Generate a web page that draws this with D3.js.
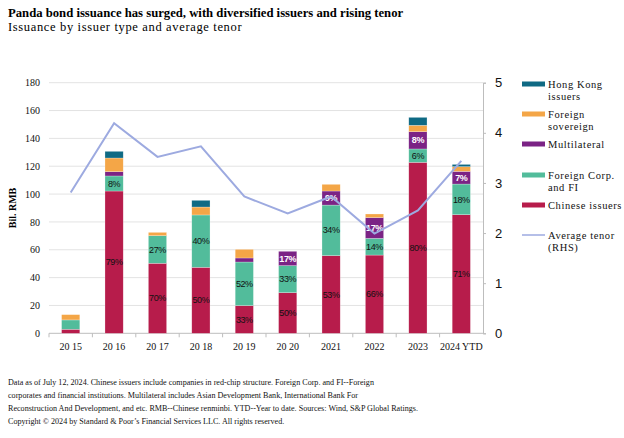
<!DOCTYPE html>
<html>
<head>
<meta charset="utf-8">
<script src="https://cdn.jsdelivr.net/npm/d3@7"></script>
<style>
  body { margin: 0; background: #fff; }
  svg { display: block; }
  .serif { font-family: "Liberation Serif", "Times New Roman", serif; }
  .sans { font-family: "Liberation Sans", Arial, sans-serif; }
</style>
</head>
<body>
<div id="container"></div>
<script>
const WIDTH = 624;
const HEIGHT = 438;
const PLOT = { LEFT: 49, RIGHT: 483, TOP: 82.7, BOTTOM: 333.3 };

// data
const years = ['2015', '2016', '2017', '2018', '2019', '2020', '2021', '2022', '2023', '2024YTD'];
const yearLabels = ['20 15', '20 16', '20 17', '20 18', '20 19', '20 20', '2021', '2022', '2023', '2024 YTD'];
const chinese = [2.9, 102.2, 50.3, 47.4, 19.9, 29.2, 55.8, 56.2, 122.8, 85.2];
const foreignCorp = [6.7, 10.8, 19.8, 37.6, 31.3, 19.4, 36.3, 12.0, 9.6, 22.0];
const multilateral = [0, 3.1, 0, 0, 2.9, 10.3, 10.1, 14.9, 12.4, 9.1];
const foreignSov = [3.8, 9.8, 2.4, 5.7, 6.2, 0, 4.8, 2.6, 4.6, 3.4];
const hongKong = [0, 4.8, 0, 4.8, 0, 0, 0, 0, 5.7, 1.6];
const tenor = [2.81, 4.19, 3.52, 3.73, 2.73, 2.39, 2.73, 1.99, 2.45, 3.44];

const chineseLabels = [null, '79%', '70%', '50%', '33%', '50%', '53%', '66%', '80%', '71%'];
const foreignCorpLabels = [null, '8%', '27%', '40%', '52%', '33%', '34%', '14%', '6%', '18%'];
const multilateralLabels = [null, null, null, null, null, '17%', '9%', '17%', '8%', '7%'];

const leftTicks = [0, 20, 40, 60, 80, 100, 120, 140, 160, 180];
const rightTicks = [0, 1, 2, 3, 4, 5];

const series = [
  { key: 'chinese', values: chinese, labels: chineseLabels, color: '#B71C4B', text: '#111' },
  { key: 'foreignCorp', values: foreignCorp, labels: foreignCorpLabels, color: '#52BC9B', text: '#111' },
  { key: 'multilateral', values: multilateral, labels: multilateralLabels, color: '#7B2385', text: '#fff' },
  { key: 'foreignSov', values: foreignSov, labels: null, color: '#F4A647', text: '#111' },
  { key: 'hongKong', values: hongKong, labels: null, color: '#0F6A84', text: '#fff' }
];

const legendItems = [
  { lines: ['Hong Kong', 'issuers'], color: '#0F6A84', type: 'bar', y: 84 },
  { lines: ['Foreign', 'sovereign'], color: '#F4A647', type: 'bar', y: 114 },
  { lines: ['Multilateral'], color: '#7B2385', type: 'bar', y: 144 },
  { lines: ['Foreign Corp.', 'and FI'], color: '#52BC9B', type: 'bar', y: 175 },
  { lines: ['Chinese issuers'], color: '#B71C4B', type: 'bar', y: 205 },
  { lines: ['Average tenor', '(RHS)'], color: '#9DAAE0', type: 'line', y: 235 }
];

const footnote = [
  'Data as of July 12, 2024. Chinese issuers include companies in red-chip structure. Foreign Corp. and FI--Foreign',
  'corporates and financial institutions. Multilateral includes Asian Development Bank, International Bank For',
  'Reconstruction And Development, and etc. RMB--Chinese renminbi. YTD--Year to date. Sources: Wind, S&P Global Ratings.',
  'Copyright \u00A9 2024 by Standard & Poor\u2019s Financial Services LLC. All rights reserved.'
];

const svg = d3.select('#container')
  .append('svg')
    .attr('width', WIDTH)
    .attr('height', HEIGHT);

// titles
svg.append('text').attr('class', 'serif')
  .attr('x', 8).attr('y', 17)
  .attr('font-size', 12.7).attr('font-weight', 'bold')
  .text('Panda bond issuance has surged, with diversified issuers and rising tenor');
svg.append('text').attr('class', 'serif')
  .attr('x', 8).attr('y', 31)
  .attr('font-size', 12.5).attr('letter-spacing', 0.65)
  .text('Issuance by issuer type and average tenor');

const x = d3.scaleBand().domain(years).range([PLOT.LEFT, PLOT.RIGHT]).paddingInner(0.58).paddingOuter(0.29);
const xEdge = d3.scaleBand().domain(years).range([PLOT.LEFT, PLOT.RIGHT]);
const y = d3.scaleLinear().domain([0, 180]).range([PLOT.BOTTOM, PLOT.TOP]);
const y2 = d3.scaleLinear().domain([0, 5]).range([PLOT.BOTTOM, PLOT.TOP]);

// gridlines
svg.append('g').selectAll('line')
  .data(leftTicks.filter(t => t > 0))
  .join('line')
    .attr('x1', PLOT.LEFT).attr('x2', PLOT.RIGHT)
    .attr('y1', d => y(d)).attr('y2', d => y(d))
    .attr('stroke', '#e3e3e3').attr('stroke-width', 1);

// left axis
const leftAxis = svg.append('g').attr('class', 'serif')
  .attr('transform', `translate(${PLOT.LEFT - 3},0)`)
  .call(d3.axisLeft(y).tickValues(leftTicks).tickSize(0).tickPadding(6));
leftAxis.select('.domain').remove();
leftAxis.selectAll('text').attr('font-size', 10).attr('fill', '#111')
  .attr('font-family', '"Liberation Serif", serif');

svg.append('text').attr('class', 'serif')
  .attr('transform', `translate(16,${(PLOT.TOP + PLOT.BOTTOM) / 2}) rotate(-90)`)
  .attr('text-anchor', 'middle').attr('font-size', 10).attr('font-weight', 'bold')
  .text('Bil. RMB');

// right axis
const rightAxis = svg.append('g')
  .attr('transform', `translate(${PLOT.RIGHT},0)`)
  .call(d3.axisRight(y2).tickValues(rightTicks).tickSize(3).tickPadding(9).tickFormat(d3.format('d')));
rightAxis.select('.domain').attr('stroke', '#bdbdbd');
rightAxis.selectAll('.tick line').attr('stroke', '#bdbdbd');
rightAxis.selectAll('text').attr('font-size', 13).attr('fill', '#111')
  .attr('font-family', '"Liberation Sans", Arial, sans-serif');

// bottom axis
const bottomAxis = svg.append('g')
  .attr('transform', `translate(0,${PLOT.BOTTOM})`)
  .call(d3.axisBottom(x).tickSize(0).tickPadding(10).tickFormat((d, i) => yearLabels[i]));
bottomAxis.select('.domain').remove();
bottomAxis.selectAll('text').attr('font-size', 10).attr('fill', '#111')
  .attr('font-family', '"Liberation Serif", serif');
svg.append('line')
  .attr('x1', PLOT.LEFT).attr('x2', PLOT.RIGHT)
  .attr('y1', PLOT.BOTTOM).attr('y2', PLOT.BOTTOM)
  .attr('stroke', '#bdbdbd');
svg.append('g').selectAll('line')
  .data(years)
  .join('line')
    .attr('x1', d => xEdge(d)).attr('x2', d => xEdge(d))
    .attr('y1', PLOT.BOTTOM).attr('y2', PLOT.BOTTOM + 4)
    .attr('stroke', '#bdbdbd');

// stacked bars
const rows = years.map((yr, i) => {
  const row = { year: yr };
  series.forEach(s => { row[s.key] = s.values[i]; });
  return row;
});
const stacked = d3.stack().keys(series.map(s => s.key))(rows);

const layers = svg.append('g').selectAll('g')
  .data(stacked)
  .join('g')
    .attr('fill', (d, i) => series[i].color);

layers.selectAll('rect')
  .data(d => d)
  .join('rect')
    .attr('x', d => x(d.data.year))
    .attr('width', x.bandwidth())
    .attr('y', d => y(d[1]))
    .attr('height', d => y(d[0]) - y(d[1]))
    .attr('stroke', 'rgba(255,255,255,0.5)')
    .attr('stroke-width', 0.5);

// percentage labels
stacked.forEach((layer, si) => {
  const s = series[si];
  if (!s.labels) return;
  svg.append('g').selectAll('text')
    .data(layer.filter((d, i) => s.labels[i]))
    .join('text')
      .attr('class', 'sans')
      .attr('x', d => x(d.data.year) + x.bandwidth() / 2)
      .attr('y', d => (y(d[0]) + y(d[1])) / 2)
      .attr('dy', '0.35em')
      .attr('text-anchor', 'middle')
      .attr('font-size', 9)
      .attr('letter-spacing', -0.4)
      .attr('font-weight', s.text === '#fff' ? 'bold' : 'normal')
      .attr('fill', s.text)
      .text(d => s.labels[years.indexOf(d.data.year)]);
});

// average tenor line
const line = d3.line()
  .x((d, i) => x(years[i]) + x.bandwidth() / 2)
  .y(d => y2(d));
svg.append('path')
  .datum(tenor)
  .attr('d', line)
  .attr('fill', 'none')
  .attr('stroke', '#9DAAE0')
  .attr('stroke-width', 2);

// legend
const legend = svg.append('g').attr('class', 'serif');
legendItems.forEach(item => {
  if (item.type === 'bar') {
    legend.append('rect')
      .attr('x', 522).attr('y', item.y - 2.5)
      .attr('width', 23).attr('height', 5)
      .attr('fill', item.color);
  } else {
    legend.append('line')
      .attr('x1', 522).attr('x2', 545)
      .attr('y1', item.y).attr('y2', item.y)
      .attr('stroke', item.color).attr('stroke-width', 1.5);
  }
  item.lines.forEach((t, j) => {
    legend.append('text')
      .attr('x', 548).attr('y', item.y + 3.5 + j * 12)
      .attr('font-size', 10.5).attr('letter-spacing', 0.6)
      .attr('fill', '#111')
      .text(t);
  });
});

// footnote
svg.append('g').attr('class', 'serif').selectAll('text')
  .data(footnote)
  .join('text')
    .attr('x', 8)
    .attr('y', (d, i) => 385 + i * 13)
    .attr('font-size', 8.1)
    .attr('fill', '#111')
    .text(d => d);
</script>
</body>
</html>
